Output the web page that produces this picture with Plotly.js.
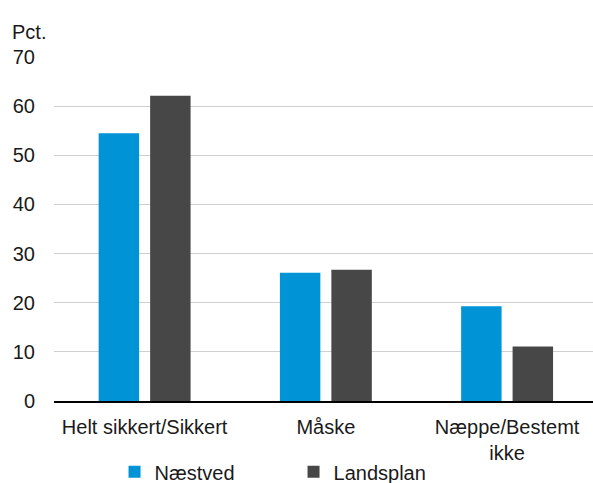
<!DOCTYPE html>
<html>
<head>
<meta charset="utf-8">
<script src="https://cdn.plot.ly/plotly-3.0.1.min.js"></script>
<style>html,body{margin:0;padding:0;background:#fff;}</style>
</head>
<body>
<div id="chart" style="width:593px;height:483px;"></div>
<script>
const categories = ["Helt sikkert/Sikkert", "Måske", "Næppe/Bestemt<br>ikke"];
const naestved = [54.5, 26.1, 19.3];
const landsplan = [62.1, 26.7, 11.1];
const seriesNames = ["Næstved", "Landsplan"];
const yTicks = [0, 10, 20, 30, 40, 50, 60, 70];

const font = {family: "Liberation Sans, Arial, sans-serif", size: 20, color: "#1a1a1a"};

const data = [
  {type: "bar", x: categories, y: naestved, name: seriesNames[0],
   marker: {color: "#0093d6", line: {width: 0}}},
  {type: "bar", x: categories, y: landsplan, name: seriesNames[1],
   marker: {color: "#474747", line: {width: 0}}}
];

const layout = {
  width: 593, height: 483,
  margin: {l: 54, r: 0, t: 57, b: 82, autoexpand: false},
  paper_bgcolor: "#fff", plot_bgcolor: "#fff",
  font: font,
  barmode: "group",
  bargap: 0.432,
  bargroupgap: 0.214,
  showlegend: true,
  legend: {orientation: "h", xref: "container", yref: "paper", x: 0.495, xanchor: "center",
           y: -0.206, yanchor: "middle", bgcolor: "rgba(0,0,0,0)",
           font: font, entrywidth: 134, entrywidthmode: "pixels", itemwidth: 30,
           tracegroupgap: 0},
  xaxis: {type: "category", range: [-0.5, 2.474], showgrid: false, automargin: false,
          showline: true, linecolor: "#000", linewidth: 2, ticks: "", tickfont: font,
          ticklabelstandoff: 7},
  yaxis: {range: [0, 70], tickvals: yTicks, showgrid: true, gridcolor: "#d0d0d0", gridwidth: 1,
          automargin: false,
          zeroline: false, showline: false, ticks: "", tickfont: font, ticklabelstandoff: 18},
  annotations: [{text: "Pct.", xref: "paper", yref: "paper", x: -54/539, y: 1,
                 xanchor: "left", yanchor: "bottom", yshift: 12, xshift: 10, showarrow: false, font: font}]
};

Plotly.newPlot("chart", data, layout, {displayModeBar: false, staticPlot: true});
</script>
</body>
</html>
